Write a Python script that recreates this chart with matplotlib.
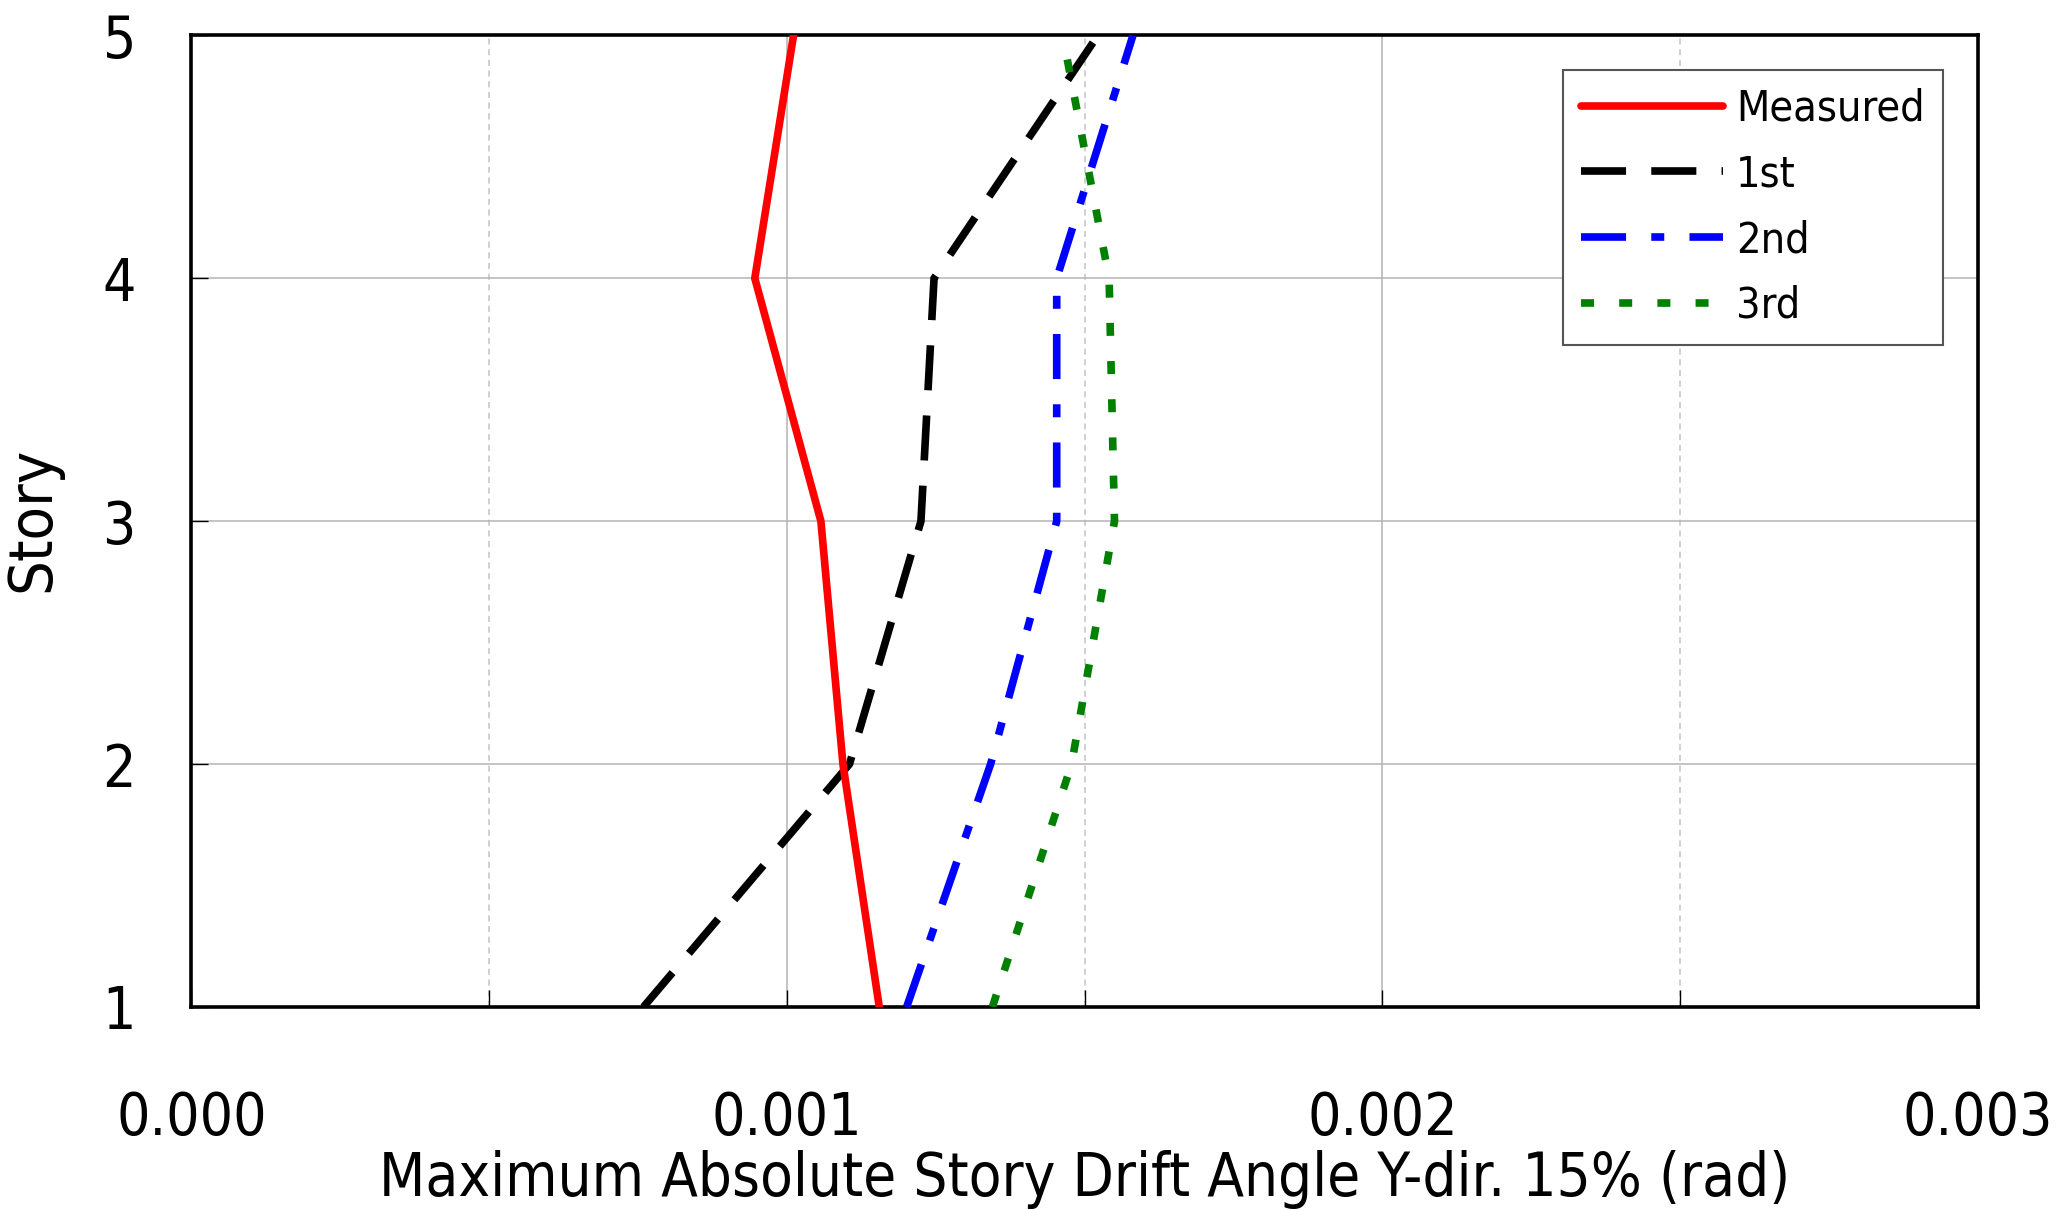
from matplotlib import pyplot as plt
from matplotlib.ticker import MultipleLocator

# condensed sans, closest to the narrow face of the original
plt.rcParams['font.family'] = ['DejaVu Sans']
plt.rcParams['font.stretch'] = 'condensed'

story = [1, 2, 3, 4, 5]
measured = [0.001155, 0.001094, 0.001057, 0.000946, 0.001011]
mode_1st = [0.000759, 0.001105, 0.001225, 0.001247, 0.001522]
mode_2nd = [0.001201, 0.001342, 0.001453, 0.001453, 0.001581]
mode_3rd = [0.001345, 0.001478, 0.001550, 0.001541, 0.001463]
labels = ['Measured', '1st', '2nd', '3rd']
x_ticks = [0.000, 0.001, 0.002, 0.003]
x_title = 'Maximum Absolute Story Drift Angle Y-dir. 15% (rad)'

fig = plt.figure(figsize=(20.61, 12.10), dpi=100)
ax = fig.add_axes([0.0929, 0.1678, 0.8668, 0.8029])

lw = 5.5
ax.plot(measured, story, color='red', lw=lw, solid_capstyle='round', label=labels[0], zorder=5)
ax.plot(mode_1st, story, color='black', lw=lw, linestyle=(0, (5.9, 3.3)), label=labels[1], zorder=4)
ax.plot(mode_2nd, story, color='blue', lw=lw, linestyle=(0, (5.9, 3.3, 1.7, 3.3)), label=labels[2], zorder=4)
ax.plot(mode_3rd, story, color='green', lw=lw, linestyle=(0, (1.7, 3.3)), label=labels[3], zorder=4)

ax.set_xlim(0, 0.003)
ax.set_ylim(1, 5)
ax.set_xticks(x_ticks)
ax.set_xticklabels(['%.3f' % v for v in x_ticks])
ax.xaxis.set_minor_locator(MultipleLocator(0.0005))
ax.set_yticks(story)

ax.grid(which='major', color='#b4b4b4', lw=1.1, linestyle='-')
ax.grid(which='minor', axis='x', color='#c4c4c4', lw=1.1, linestyle=(0, (4, 3)))
ax.set_axisbelow(True)

ax.tick_params(axis='x', which='both', direction='in', length=12, width=1, labelsize=42, pad=60)
ax.tick_params(axis='y', direction='in', length=12, width=1, labelsize=42, pad=40)
for s in ax.spines.values():
    s.set_linewidth(2.6)

ax.set_xlabel(x_title, fontsize=43, labelpad=2)
ax.set_ylabel('Story', fontsize=44)
ax.yaxis.set_label_coords(-0.072, 0.502)

leg = ax.legend(loc='upper right', bbox_to_anchor=(0.9804, 0.9648), borderaxespad=0,
                fontsize=31, handlelength=3.3, handletextpad=0.3, labelspacing=0.55,
                borderpad=0.42, fancybox=False, framealpha=1)
leg.get_frame().set_edgecolor('#555555')
leg.get_frame().set_linewidth(1.5)

plt.savefig('out.png', dpi=100)
